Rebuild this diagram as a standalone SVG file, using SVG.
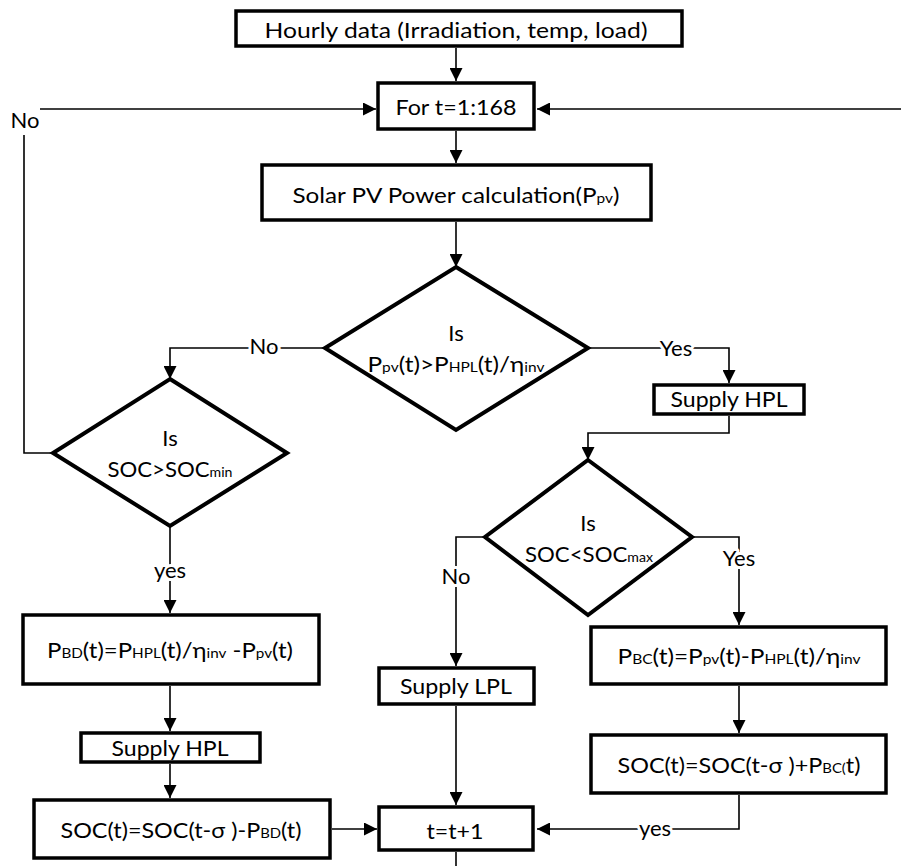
<svg xmlns="http://www.w3.org/2000/svg" width="901" height="866" viewBox="0 0 901 866">
<defs>
<style>
.box{fill:#fff;stroke:#000;stroke-width:3.5}
.dia{fill:#fff;stroke:#000;stroke-width:4;stroke-linejoin:miter}
.c{fill:none;stroke:#000;stroke-width:1.6}
.t{font-family:Lato,"Open Sans","Liberation Sans",sans-serif;font-size:22px;text-anchor:middle;fill:#000}
.s{font-size:14px}
.lbl{font-family:Lato,"Open Sans","Liberation Sans",sans-serif;font-size:22px;text-anchor:middle;fill:#000;stroke:#fff;stroke-width:6;paint-order:stroke;stroke-linejoin:round}
</style>
<marker id="ah" markerWidth="13" markerHeight="13" refX="13" refY="6.5" orient="auto" markerUnits="userSpaceOnUse"><path d="M0,0 L13,6.5 L0,13 z" fill="#000"/></marker>
</defs>
<rect width="901" height="866" fill="#fff"/>
<g id="connectors">
<path class="c" d="M456,48 V81" marker-end="url(#ah)"/>
<path class="c" d="M456,131 V163" marker-end="url(#ah)"/>
<path class="c" d="M456,222 V267" marker-end="url(#ah)"/>
<path class="c" d="M53,453 H24 V135"/>
<path class="c" d="M40,109 H376" marker-end="url(#ah)"/>
<path class="c" d="M901,109 H537" marker-end="url(#ah)"/>
<path class="c" d="M325,348 H170 V379" marker-end="url(#ah)"/>
<path class="c" d="M588,348 H729 V383" marker-end="url(#ah)"/>
<path class="c" d="M729,416 V433 H588 V460" marker-end="url(#ah)"/>
<path class="c" d="M485,537 H456 V666" marker-end="url(#ah)"/>
<path class="c" d="M692,537 H739 V625" marker-end="url(#ah)"/>
<path class="c" d="M739,686 V733" marker-end="url(#ah)"/>
<path class="c" d="M739,795 V829 H537" marker-end="url(#ah)"/>
<path class="c" d="M456,706 V805" marker-end="url(#ah)"/>
<path class="c" d="M456,852 V866"/>
<path class="c" d="M170,526 V613" marker-end="url(#ah)"/>
<path class="c" d="M170,686 V731" marker-end="url(#ah)"/>
<path class="c" d="M170,764 V798" marker-end="url(#ah)"/>
<path class="c" d="M332,829 H377" marker-end="url(#ah)"/>
<text class="lbl" x="25" y="128">No</text>
<text class="lbl" x="264" y="354">No</text>
<text class="lbl" x="676" y="356">Yes</text>
<text class="lbl" x="456" y="584">No</text>
<text class="lbl" x="739" y="566">Yes</text>
<text class="lbl" x="170" y="578">yes</text>
<text class="lbl" x="655" y="836">yes</text>
</g>
<g id="n-hourly"><rect class="box" x="236" y="11" width="446" height="35"/><text class="t" x="456" y="38" textLength="383" lengthAdjust="spacingAndGlyphs">Hourly data (Irradiation, temp, load)</text></g>
<g id="n-for"><rect class="box" x="378" y="83" width="156" height="46"/><text class="t" x="456" y="115" textLength="121" lengthAdjust="spacingAndGlyphs">For t=1:168</text></g>
<g id="n-solar"><rect class="box" x="262" y="165" width="389" height="55"/><text class="t" x="456" y="203" textLength="327" lengthAdjust="spacingAndGlyphs">Solar PV Power calculation(P<tspan class="s">pv</tspan>)</text></g>
<g id="n-d1"><polygon class="dia" points="456,267 588,348 456,430 325,348"/><text class="t" x="456" y="341">Is</text><text class="t" x="456" y="372" textLength="177" lengthAdjust="spacingAndGlyphs">P<tspan class="s">pv</tspan>(t)&gt;P<tspan class="s">HPL</tspan>(t)/η<tspan class="s">inv</tspan></text></g>
<g id="n-dmin"><polygon class="dia" points="170,379 287,453 170,526 53,453"/><text class="t" x="170" y="446">Is</text><text class="t" x="170" y="477" textLength="125" lengthAdjust="spacingAndGlyphs">SOC&gt;SOC<tspan class="s">min</tspan></text></g>
<g id="n-hpl-r"><rect class="box" x="654" y="385" width="150" height="29"/><text class="t" x="729" y="407" textLength="117" lengthAdjust="spacingAndGlyphs">Supply HPL</text></g>
<g id="n-dmax"><polygon class="dia" points="588,460 692,537 588,615 485,537"/><text class="t" x="588" y="531">Is</text><text class="t" x="589" y="562" textLength="128" lengthAdjust="spacingAndGlyphs">SOC&lt;SOC<tspan class="s">max</tspan></text></g>
<g id="n-pbd"><rect class="box" x="23" y="615" width="296" height="69"/><text class="t" x="170" y="658" textLength="246" lengthAdjust="spacingAndGlyphs">P<tspan class="s">BD</tspan>(t)=P<tspan class="s">HPL</tspan>(t)/η<tspan class="s">inv</tspan> -P<tspan class="s">pv</tspan>(t)</text></g>
<g id="n-hpl-l"><rect class="box" x="81" y="733" width="179" height="29"/><text class="t" x="170" y="756" textLength="117" lengthAdjust="spacingAndGlyphs">Supply HPL</text></g>
<g id="n-socminus"><rect class="box" x="34" y="800" width="296" height="58"/><text class="t" x="181" y="838" textLength="241" lengthAdjust="spacingAndGlyphs">SOC(t)=SOC(t-σ )-P<tspan class="s">BD</tspan>(t)</text></g>
<g id="n-lpl"><rect class="box" x="379" y="668" width="155" height="36"/><text class="t" x="456" y="694" textLength="112" lengthAdjust="spacingAndGlyphs">Supply LPL</text></g>
<g id="n-tinc"><rect class="box" x="379" y="807" width="154" height="43"/><text class="t" x="455" y="839" textLength="57" lengthAdjust="spacingAndGlyphs">t=t+1</text></g>
<g id="n-pbc"><rect class="box" x="591" y="627" width="295" height="57"/><text class="t" x="739" y="664" textLength="243" lengthAdjust="spacingAndGlyphs">P<tspan class="s">BC</tspan>(t)=P<tspan class="s">pv</tspan>(t)-P<tspan class="s">HPL</tspan>(t)/η<tspan class="s">inv</tspan></text></g>
<g id="n-socplus"><rect class="box" x="591" y="735" width="295" height="58"/><text class="t" x="739" y="773" textLength="243" lengthAdjust="spacingAndGlyphs">SOC(t)=SOC(t-σ )+P<tspan class="s">BC(</tspan>t)</text></g>
</svg>
